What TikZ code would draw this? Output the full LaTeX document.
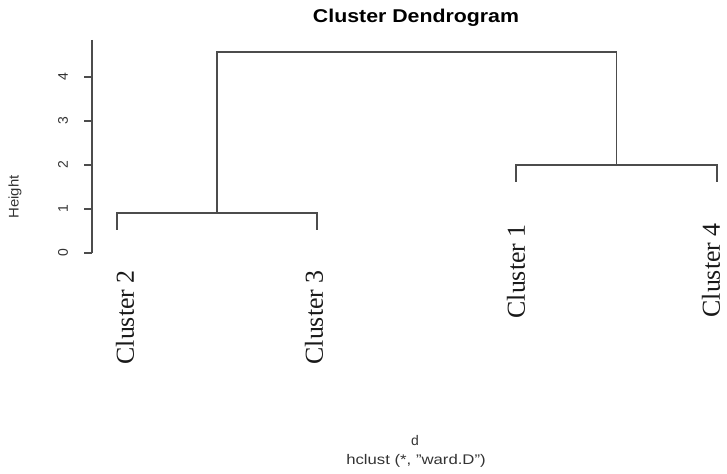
\documentclass[tikz,border=0pt]{standalone}
\usepackage{fontspec}
\usepackage{graphicx}
\setmainfont{Liberation Sans}
\newfontfamily\labserif{Liberation Serif}
\begin{document}
\begin{tikzpicture}[x=1bp,y=-1bp,
  lin/.style={draw=black!70, line width=1.1bp},
  lbl/.style={font=\labserif\fontsize{26}{26}\selectfont, rotate=90, anchor=east, inner sep=0pt, text=black!90},
  ticklbl/.style={font=\fontsize{14}{14}\selectfont, rotate=90, inner sep=0pt, text=black!80},
  smalltxt/.style={font=\fontsize{14}{14}\selectfont, inner sep=0pt, text=black!80}]
\useasboundingbox (0,0) rectangle (727,474);
% tree coordinates
\coordinate (l2) at (117,230);
\coordinate (l3) at (317,230);
\coordinate (l1) at (516,182);
\coordinate (l4) at (717,182);
\coordinate (m23) at (217,213);
\coordinate (m14) at (616.5,165);
\coordinate (root) at (416.75,52);
% tree
\draw[lin] (l2) |- (m23) -| (l3);
\draw[lin] (l1) |- (m14) -| (l4);
\draw[lin] (m23) |- (root) -| (m14);
% leaf labels
\node[lbl] (c2) at (125,270) {Cluster 2};
\node[lbl] (c3) at (314,270) {Cluster 3};
\node[lbl] (c1) at (516,224) {Cluster 1};
\node[lbl] (c4) at (711,223) {Cluster 4};
% axis
\coordinate (axtop) at (92,40);
\coordinate (ax0) at (92,253);
\draw[lin] (axtop) -- (ax0);
\foreach \v in {0,...,4}{
  \coordinate (tk\v) at (92,253-44*\v);
  \draw[lin] (tk\v) -- ++(-8,0);
  \node[ticklbl] (tl\v) at (63,253-44*\v) {\v};
}
\node[ticklbl] (ylab) at (15,197) {\scalebox{1.07}[1]{Height}};
% titles
\node[inner sep=0pt] (title) at (416,18) {\fontsize{18.6}{18.6}\selectfont\bfseries\scalebox{1.15}[1]{Cluster Dendrogram}};
\node[smalltxt] (sub1) at (415,441) {d};
\node[smalltxt] (sub2) at (416,461) {\scalebox{1.2}[1]{hclust (*, "ward.D")}};
\end{tikzpicture}
\end{document}
